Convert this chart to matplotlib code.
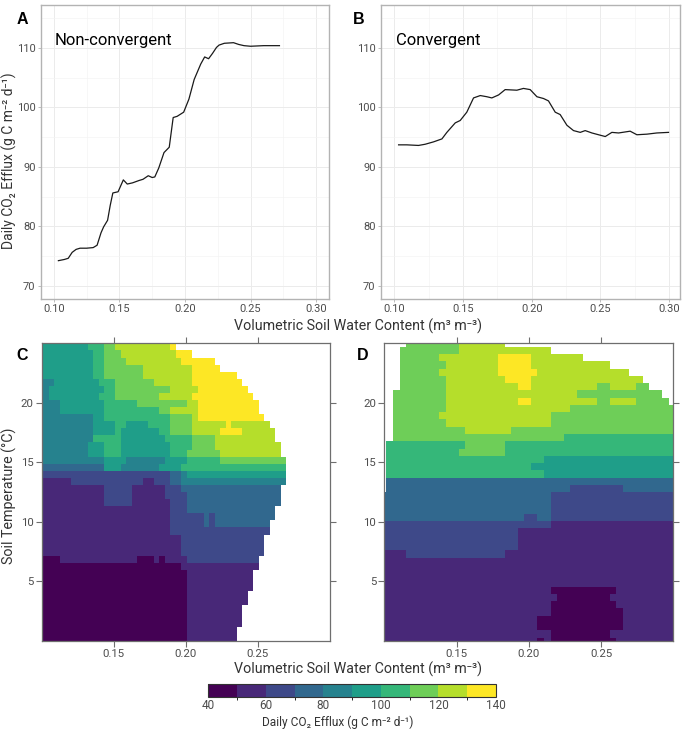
import numpy as np
import matplotlib
matplotlib.use("Agg")
import matplotlib.pyplot as plt
from matplotlib.colors import ListedColormap, BoundaryNorm

plt.rcParams["font.family"] = ["Roboto", "DejaVu Sans"]

# Panel A: non-convergent response curve
swc_a = [0.1035, 0.108, 0.111, 0.114, 0.117, 0.120, 0.125, 0.130, 0.133, 0.136,
         0.138, 0.141, 0.143, 0.145, 0.149, 0.153, 0.156, 0.160, 0.165, 0.168,
         0.172, 0.175, 0.177, 0.180, 0.184, 0.188, 0.191, 0.194, 0.199, 0.203,
         0.207, 0.212, 0.215, 0.218, 0.221, 0.224, 0.226, 0.230, 0.237, 0.241,
         0.245, 0.250, 0.260, 0.272]
eff_a = [74.2, 74.4, 74.6, 75.6, 76.1, 76.3, 76.3, 76.4, 76.8, 78.9,
         79.9, 81.0, 83.5, 85.6, 85.8, 87.8, 87.1, 87.3, 87.7, 87.9,
         88.5, 88.2, 88.3, 89.8, 92.4, 93.3, 98.3, 98.5, 99.2, 101.4,
         104.7, 107.3, 108.5, 108.2, 109.1, 110.1, 110.5, 110.8, 110.9, 110.6,
         110.4, 110.3, 110.4, 110.4]

# Panel B: convergent response curve
swc_b = [0.1032, 0.1092, 0.1177, 0.1225, 0.1286, 0.1347, 0.1383, 0.1444, 0.148,
         0.1528, 0.1577, 0.1626, 0.1674, 0.171, 0.1759, 0.1807, 0.1892, 0.194,
         0.1989, 0.2038, 0.2086, 0.2122, 0.2171, 0.2207, 0.2256, 0.2304, 0.2353,
         0.2389, 0.2438, 0.2486, 0.2535, 0.2583, 0.2632, 0.2716, 0.2765, 0.2838,
         0.291, 0.2995]
eff_b = [93.7, 93.7, 93.6, 93.8, 94.2, 94.7, 95.8, 97.4, 97.8,
         99.2, 101.6, 102.0, 101.8, 101.6, 102.1, 103.0, 102.9, 103.2,
         103.0, 101.8, 101.5, 101.1, 99.2, 98.8, 97.0, 96.1, 95.8,
         96.1, 95.7, 95.4, 95.1, 95.8, 95.7, 96.0, 95.4, 95.5,
         95.7, 95.8]

# efflux bins (g C m-2 d-1) and the value used for each bin
bin_edges = [40, 50, 60, 70, 80, 90, 100, 110, 120, 130, 140]
bin_mid = [45, 55, 65, 75, 85, 95, 105, 115, 125, 135]

# Panel C grid: rows from warm (top) to cold (bottom), "bin:end_column", "." = no data
swc_c = np.r_[0.10, 0.101134 + 0.003831 * np.arange(1, 53)]
temp_c = 25 - 25 / 42 * np.arange(43)
rows_c = [
    "5:8 6:11 7:13 8:23 9:24",
    "5:9 6:11 7:14 8:24 9:27",
    "5:9 6:11 7:15 8:25 9:31",
    "5:9 6:11 7:18 8:27 9:32",
    "5:9 6:11 7:18 8:27 9:35",
    "4:2 5:10 6:13 7:20 8:27 9:36",
    "4:1 5:11 6:13 7:23 8:28 9:37",
    "4:1 5:10 6:13 7:21 8:27 9:38",
    "4:3 5:11 6:17 7:26 8:28 9:39",
    "4:3 5:11 6:21 7:23 8:28 9:39",
    "4:9 5:11 6:23 7:27 8:28 9:40",
    "4:9 5:13 6:15 5:19 6:23 7:27 8:33 9:34 8:41",
    "4:9 5:13 6:14 5:21 6:23 7:27 8:32 9:36 8:42",
    "4:9 6:14 5:22 6:27 7:31 8:42",
    "4:8 5:11 6:14 5:23 6:27 7:31 8:43",
    "4:8 5:11 6:14 5:23 6:26 7:32 8:43",
    "4:11 5:15 4:22 5:26 6:32 7:44",
    "3:11 5:14 4:21 5:25 6:44",
    "2:23 3:25 4:26 5:44",
    "1:5 2:18 1:20 2:23 3:25 4:44",
    "1:11 2:16 1:22 2:25 3:43",
    "1:11 2:16 1:22 2:26 3:43",
    "1:11 2:16 1:23 2:26 3:43",
    "1:23 2:26 3:42",
    "1:23 2:29 3:30 2:31 3:42",
    "1:23 2:29 3:30 2:31 3:41",
    "1:23 2:41",
    "1:25 2:40",
    "1:25 2:40",
    "1:25 2:40",
    "0:3 1:17 0:20 1:21 0:22 1:26 2:39",
    "0:25 1:39",
    "0:26 1:38",
    "0:26 1:38",
    "0:26 1:38",
    "0:26 1:37",
    "0:26 1:37",
    "0:26 1:36",
    "0:26 1:36",
    "0:26 1:36",
    "0:26 1:35",
    "0:26 1:35",
]

# Panel D grid
swc_d = np.r_[0.10, 0.101362 + 0.004548 * np.arange(0, 45)]
temp_d = 24.71 - 0.611 * np.arange(-1, 42)
rows_d = [
    ".:4 7:12 8:19",
    ".:3 7:12 8:26",
    ".:3 7:9 8:18 9:23 8:31",
    ".:3 7:10 8:18 9:23 8:35",
    ".:3 7:9 8:18 9:24 8:38",
    ".:3 7:10 8:19 9:23 8:40",
    ".:3 7:10 8:21 9:23 8:33 7:35 8:39 7:41",
    ".:2 7:10 8:30 7:43",
    ".:2 7:10 8:21 9:23 8:33 7:35 8:39 7:44",
    ".:2 7:10 8:29 7:45",
    ".:2 7:9 8:26 7:45",
    ".:2 7:10 8:26 7:45",
    ".:2 7:13 8:20 7:45",
    ".:2 7:28 6:45",
    ".:1 6:13 7:19 6:45",
    ".:1 6:12 7:19 6:45",
    ".:1 6:25 5:45",
    ".:1 6:23 5:45",
    ".:1 6:25 5:45",
    ".:1 3:45",
    ".:1 3:29 2:37 3:45",
    "3:26 2:45",
    "3:26 2:45",
    "3:26 2:45",
    "3:22 2:24 3:26 2:45",
    "2:26 1:45",
    "2:21 1:45",
    "2:21 1:45",
    "2:21 1:45",
    "1:4 2:19 1:45",
    "1:45",
    "1:45",
    "1:45",
    "1:45",
    "1:26 0:36 1:45",
    "1:27 0:35 1:45",
    "1:26 0:36 1:45",
    "1:26 0:37 1:45",
    "1:24 0:37 1:45",
    "1:24 0:37 1:45",
    "1:26 0:35 1:45",
    "1:24 0:25 1:26 0:36 1:45",
]


def decode(rows, ncol):
    grid = np.full((len(rows), ncol), np.nan)
    for r, row in enumerate(rows):
        start = 0
        for tok in row.split():
            lev, end = tok.split(":")
            end = int(end)
            if lev != ".":
                grid[r, start:end] = bin_mid[int(lev)]
            start = end
    return grid


grid_c = decode(rows_c, len(swc_c) - 1)
grid_d = decode(rows_d, len(swc_d) - 1)

cmap = ListedColormap(plt.cm.viridis(np.linspace(0, 1, 10)))
norm = BoundaryNorm(bin_edges, cmap.N)

fig = plt.figure(figsize=(6.85, 7.31), dpi=100)
axA = fig.add_axes([0.0594, 0.591, 0.4213, 0.4022])
axB = fig.add_axes([0.5558, 0.591, 0.437, 0.4022])
axC = fig.add_axes([0.0609, 0.1235, 0.4209, 0.4068])
axD = fig.add_axes([0.5613, 0.1235, 0.4215, 0.4068])

tick_col = "#4D4D4D"
efflux_label = "Daily CO\u2082 Efflux (g C m\u207b\u00b2 d\u207b\u00b9)"
swc_label = "Volumetric Soil Water Content (m\u00b3 m\u207b\u00b3)"

# line panels
for ax, x, y, xl, name in [(axA, swc_a, eff_a, (0.09, 0.31), "Non-convergent"),
                           (axB, swc_b, eff_b, (0.0902, 0.3079), "Convergent")]:
    ax.plot(x, y, color="#1a1a1a", lw=0.9)
    ax.set_xlim(*xl)
    ax.set_ylim(67.75, 117.25)
    ax.set_xticks([0.10, 0.15, 0.20, 0.25, 0.30])
    ax.set_xticklabels(["0.10", "0.15", "0.20", "0.25", "0.30"])
    ax.set_yticks([70, 80, 90, 100, 110])
    ax.set_xticks([0.125, 0.175, 0.225, 0.275], minor=True)
    ax.set_yticks([75, 85, 95, 105, 115], minor=True)
    ax.grid(True, which="major", color="#EBEBEB", lw=0.7)
    ax.grid(True, which="minor", color="#F3F3F3", lw=0.45)
    ax.set_axisbelow(True)
    for s in ax.spines.values():
        s.set_color("#B3B3B3")
        s.set_linewidth(1.0)
    ax.tick_params(which="major", color="#B3B3B3", length=2.5, width=0.6,
                   labelcolor=tick_col, labelsize=8, pad=1.2)
    ax.tick_params(which="minor", length=0)
    ax.text(0.101, 111.3, name, fontsize=12, ha="left", va="center", color="black")

# heatmap panels
mesh = None
for ax, xe, ye, g in [(axC, swc_c, temp_c, grid_c), (axD, swc_d, temp_d, grid_d)]:
    mesh = ax.pcolormesh(xe, ye, g, cmap=cmap, norm=norm, shading="flat")
    ax.set_xlim(0.10, 0.30)
    ax.set_ylim(0, 25)
    ax.set_xticks([0.15, 0.20, 0.25])
    ax.set_xticklabels(["0.15", "0.20", "0.25"])
    ax.set_yticks([5, 10, 15, 20])
    for s in ax.spines.values():
        s.set_color("#6E6E6E")
        s.set_linewidth(0.9)
    ax.tick_params(top=True, right=True, direction="out", length=4, width=0.8,
                   color="#6E6E6E", labelcolor=tick_col, labelsize=8.2, pad=2)

# panel letters
for x, y, s in [(0.0328, 0.974, "A"), (0.524, 0.974, "B"),
                (0.0328, 0.513, "C"), (0.529, 0.513, "D")]:
    fig.text(x, y, s, fontsize=11.5, fontweight="bold", family="Liberation Sans",
             ha="center", va="center")

# axis titles
fig.text(0.0135, 0.78, efflux_label, rotation=90,
         fontsize=10, color="#333333", ha="center", va="center")
fig.text(0.0135, 0.3215, "Soil Temperature (\u00b0C)", rotation=90,
         fontsize=10.3, color="#333333", ha="center", va="center")
fig.text(0.522, 0.5535, swc_label,
         fontsize=10.3, color="#333333", ha="center", va="center")
fig.text(0.522, 0.0845, swc_label,
         fontsize=10.3, color="#333333", ha="center", va="center")

# colour bar
cax = fig.add_axes([0.304, 0.0461, 0.42, 0.0182])
cb = fig.colorbar(mesh, cax=cax, orientation="horizontal",
                  ticks=[40, 60, 80, 100, 120, 140])
cb.outline.set_edgecolor("#333333")
cb.outline.set_linewidth(0.8)
cax.tick_params(length=0, labelsize=8.5, labelcolor=tick_col, pad=1)
fig.text(0.4934, 0.0125, efflux_label,
         fontsize=8.6, color="#333333", ha="center", va="center")

fig.savefig("out.png", dpi=100)
